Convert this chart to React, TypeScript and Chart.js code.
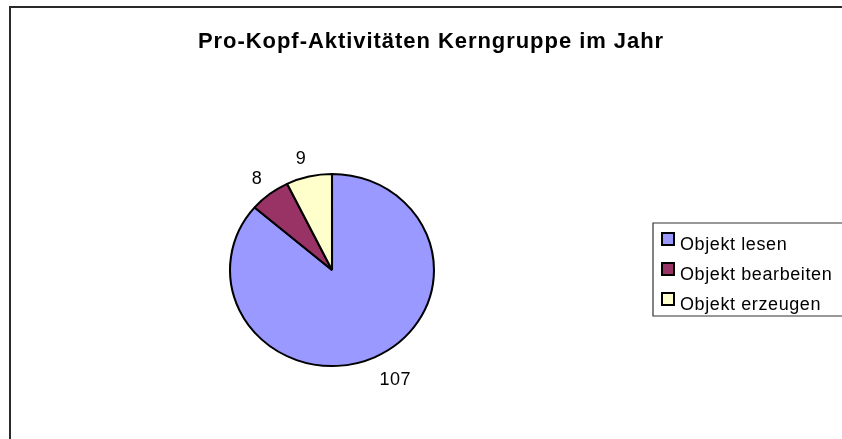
import React, { useEffect, useRef } from "react";
import { Chart, registerables } from "chart.js";

Chart.register(...registerables);

const categories = ["Objekt lesen", "Objekt bearbeiten", "Objekt erzeugen"];
const values = [107, 8, 9];
const colors = ["#9999FF", "#993366", "#FFFFCC"];
const titleText = "Pro-Kopf-Aktivitäten Kerngruppe im Jahr";

const FONT = 'Arial, "Liberation Sans", sans-serif';
const SX = 1.03;
const SY = 0.97;

const decorPlugin = {
  id: "decor",
  beforeDraw(chart: any) {
    const ctx = chart.ctx;
    const W = chart.width;
    const H = chart.height;
    ctx.save();
    ctx.fillStyle = "#ffffff";
    ctx.fillRect(0, 0, W, H);
    ctx.strokeStyle = "#2a2a2a";
    ctx.lineWidth = 2;
    ctx.beginPath();
    ctx.moveTo(W + 5, 7);
    ctx.lineTo(10, 7);
    ctx.lineTo(10, H + 5);
    ctx.stroke();
    ctx.fillStyle = "#000";
    ctx.font = `bold 22px ${FONT}`;
    (ctx as any).letterSpacing = "0.95px";
    ctx.textAlign = "center";
    ctx.textBaseline = "alphabetic";
    ctx.fillText(titleText, 431, 47.5);
    ctx.restore();
  },
  beforeDatasetsDraw(chart: any) {
    const ctx = chart.ctx;
    const a = chart.chartArea;
    const cx = (a.left + a.right) / 2;
    const cy = (a.top + a.bottom) / 2;
    ctx.save();
    ctx.translate(cx, cy);
    ctx.scale(SX, SY);
    ctx.translate(-cx, -cy);
  },
  afterDatasetsDraw(chart: any) {
    chart.ctx.restore();
  },
  afterDraw(chart: any) {
    const ctx = chart.ctx;
    const W = chart.width;
    ctx.save();
    const meta = chart.getDatasetMeta(0);
    ctx.font = `18px ${FONT}`;
    (ctx as any).letterSpacing = "0.4px";
    ctx.fillStyle = "#000";
    ctx.textBaseline = "middle";
    meta.data.forEach((arc: any, i: number) => {
      const mid = (arc.startAngle + arc.endAngle) / 2;
      const g = 12;
      const c = Math.cos(mid);
      const s = Math.sin(mid);
      const px = arc.x + c * (arc.outerRadius * SX + g);
      const py = arc.y + s * (arc.outerRadius * SY + g);
      ctx.textAlign = c >= 0 ? "left" : "right";
      ctx.fillText(String(values[i]), px, py + (s >= 0 ? 12 : -6));
    });
    const lx = 653;
    const ly = 223;
    const lh = 93;
    ctx.strokeStyle = "#333";
    ctx.lineWidth = 1.2;
    ctx.beginPath();
    ctx.moveTo(W + 5, ly);
    ctx.lineTo(lx, ly);
    ctx.lineTo(lx, ly + lh);
    ctx.lineTo(W + 5, ly + lh);
    ctx.stroke();
    ctx.font = `18px ${FONT}`;
    (ctx as any).letterSpacing = "0.6px";
    ctx.textAlign = "left";
    ctx.textBaseline = "alphabetic";
    categories.forEach((cat, i) => {
      const cy = 239 + i * 30;
      ctx.fillStyle = colors[i];
      ctx.fillRect(662, cy - 6, 12, 12);
      ctx.strokeStyle = "#000";
      ctx.lineWidth = 2;
      ctx.strokeRect(662, cy - 6, 12, 12);
      ctx.fillStyle = "#000";
      ctx.fillText(cat, 680, cy + 10.5);
    });
    ctx.restore();
  },
};

export default function App() {
  const ref = useRef<HTMLCanvasElement | null>(null);
  useEffect(() => {
    document.body.style.margin = "0";
    document.body.style.overflow = "hidden";
    if (!ref.current) return;
    const chart = new Chart(ref.current, {
      type: "pie",
      data: {
        labels: categories,
        datasets: [
          {
            data: values,
            backgroundColor: colors,
            borderColor: "#000000",
            borderWidth: 2,
          },
        ],
      },
      options: {
        animation: false,
        responsive: true,
        maintainAspectRatio: false,
        radius: 99,
        layout: { padding: { top: 171, bottom: 70, left: 233, right: 411 } },
        plugins: {
          legend: { display: false },
          title: { display: false },
          tooltip: { enabled: false },
        },
      } as any,
      plugins: [decorPlugin],
    });
    return () => chart.destroy();
  }, []);
  return (
    <div style={{ width: 842, height: 439, position: "relative", background: "#fff" }}>
      <canvas ref={ref} />
    </div>
  );
}
